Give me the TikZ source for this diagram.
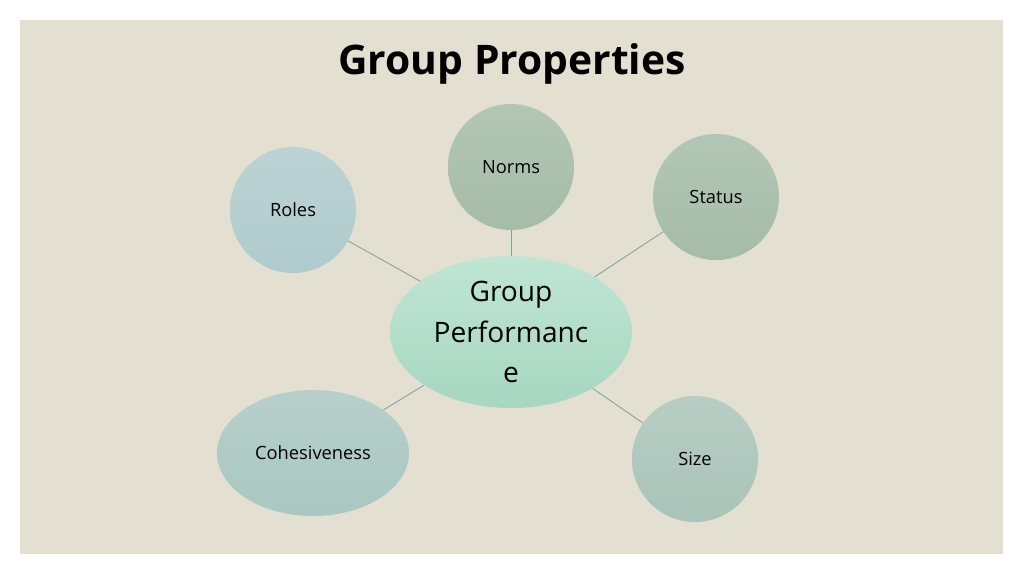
\documentclass[tikz,border=0pt]{standalone}
\usepackage{fontspec}
\setmainfont{Open Sans}
\usetikzlibrary{positioning,shapes.geometric}
\definecolor{bgbeige}{HTML}{E3DFD1}
\definecolor{linkcol}{HTML}{7FA49B}
\definecolor{sage}{RGB}{165,188,168}
\definecolor{bluegray}{RGB}{176,203,205}
\definecolor{seagray}{RGB}{170,196,186}
\definecolor{cohescol}{RGB}{170,199,193}
\definecolor{mintlight}{RGB}{192,229,212}
\definecolor{mintdark}{RGB}{166,215,192}
\begin{document}
\begin{tikzpicture}
[   x=0.025cm, y=-0.025cm,
    prop/.style={circle, minimum size=126*0.025cm, inner sep=0pt, font=\fontsize{13}{15}\selectfont, top color=#1!85!white, bottom color=#1},
    link/.style={draw=linkcol, line width=0.6pt}, ]
    \fill[white] (0,0) rectangle (1024,575);
    \fill[bgbeige] (20,20) rectangle (1003,554);
    \node[font=\fontsize{29}{34}\selectfont\bfseries] (title) at (512,64) {Group Properties};
    % centre
    \node[ellipse, minimum width=242*0.025cm, minimum height=152*0.025cm, inner sep=0pt,
          top color=mintlight, bottom color=mintdark,
          align=center, font=\fontsize{20}{29}\selectfont] (perf) at (511,332) {Group\\Performanc\\e};
    % properties
    \node[prop=sage] (norms) at (511,167) {Norms};
    \node[prop=bluegray] (roles) at (293,210) {Roles};
    \node[prop=sage] (status) at (716,197) {Status};
    \node[prop=seagray] (size) at (695,459) {Size};
    \node[ellipse, minimum width=192*0.025cm, minimum height=126*0.025cm, inner sep=0pt,
          font=\fontsize{13}{15}\selectfont,
          top color=cohescol!85!white, bottom color=cohescol] (cohes) at (313,453) {Cohesiveness};
    \foreach \p in {norms,roles,status,size,cohes}
    {   \draw[link] (\p) -- (perf);
    }
\end{tikzpicture}
\end{document}
